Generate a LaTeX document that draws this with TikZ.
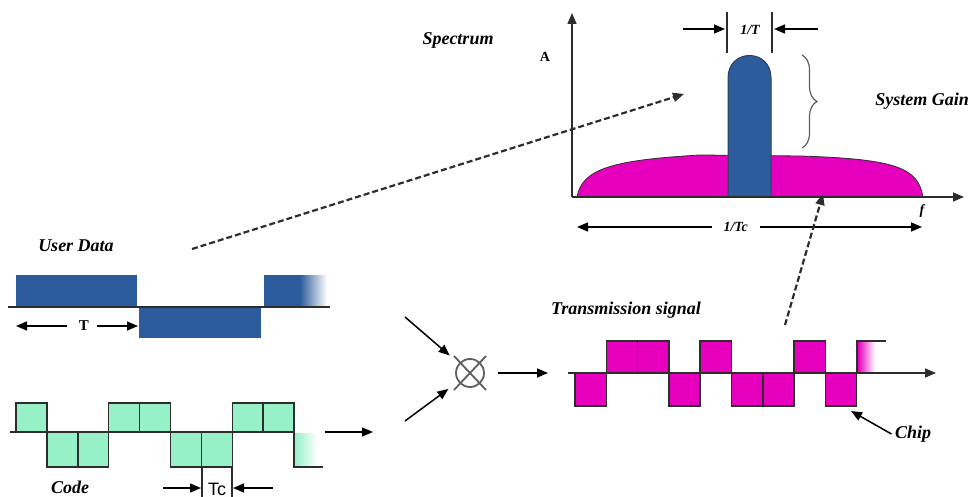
\documentclass[tikz,border=0pt]{standalone}
\usepackage{fontspec}
\setmainfont{Liberation Serif}
\newfontfamily\arialfont{Liberation Sans}
\usetikzlibrary{arrows.meta,decorations.pathreplacing}

\definecolor{userblue}{RGB}{44,92,155}
\definecolor{chipgreen}{RGB}{150,240,200}
\definecolor{chippink}{RGB}{230,0,190}
\definecolor{linegray}{RGB}{45,45,45}
\definecolor{mulgray}{RGB}{95,95,95}

\tikzset{
  lbl/.style={font=\fontsize{18}{20}\selectfont\bfseries\itshape},
  smalllbl/.style={font=\fontsize{14}{16}\selectfont\bfseries\itshape},
  wave/.style={draw=linegray, line width=1.5pt},
  axisline/.style={draw=linegray, line width=1.5pt},
  dotarrow/.style={->, draw=linegray, line width=2.2pt, dash pattern=on 6pt off 3pt},
}

\begin{document}
\begin{tikzpicture}[x=1pt,y=-1pt,>={Triangle[length=11pt,width=9pt]}]
  \useasboundingbox (0,0) rectangle (971,497);

  % user data
  \node[lbl] (userdata) at (76,246) {User Data};
  \fill[userblue] (16,275) rectangle (137,306);
  \fill[userblue] (139,307) rectangle (261,338);
  \fill[userblue] (264,275) rectangle (300,306);
  \shade[left color=userblue,right color=white] (300,275) rectangle (327,306);
  \draw[axisline] (8,307) -- (330,307);
  \node[font=\fontsize{15}{16}\selectfont\bfseries] (tlabel) at (84,326) {T};
  \coordinate (tleft) at (16,326);
  \coordinate (tright) at (138,326);
  \draw[->, line width=1.5pt, shorten <=8pt] (tlabel) -- (tleft);
  \draw[->, line width=1.5pt, shorten <=4pt] (tlabel) -- (tright);

  % code
  \node[lbl, anchor=base] (code) at (70,493) {Code};
  \draw[wave] (10,432) -- (16,432);
  \foreach \lev [count=\i from 0] in {403,467,467,403,403,467,467,403,403}
    \filldraw[wave, fill=chipgreen] (16+\i*30.9,432) rectangle (46.9+\i*30.9,\lev);
  \shade[left color=chipgreen,right color=white] (295,433) rectangle (317,466);
  \draw[wave] (294,432) -- (294,467) -- (323,467);
  \coordinate (codeout) at (325,432);
  \coordinate (codein) at (373,432);
  \draw[->, line width=1.5pt] (codeout) -- (codein);
  % chip width marks
  \draw[wave] (202,467) -- (202,497);
  \draw[wave] (232,467) -- (232,497);
  \node[font=\arialfont\fontsize{18}{20}\selectfont, anchor=base] (tc) at (217,495) {Tc};
  \coordinate (tcl) at (163,488);
  \coordinate (tcr) at (273,488);
  \draw[->, line width=1.5pt] (tcl) -- (201,488) coordinate (tcla);
  \draw[->, line width=1.5pt] (tcr) -- (233,488) coordinate (tcra);

  % multiplier
  \node[circle, draw=mulgray, line width=1.8pt, minimum size=28pt, inner sep=0pt] (mul) at (470,373) {};
  \draw[mulgray, line width=1.8pt] (mul) ++(-16,-17) -- ++(32,34);
  \draw[mulgray, line width=1.8pt] (mul) ++(16,-17) -- ++(-32,34);
  \coordinate (datain) at (405,317);
  \coordinate (codemul) at (405,421);
  \coordinate (mulout) at (548,373);
  \draw[->, line width=1.5pt, shorten >=12pt] (datain) -- (mul);
  \draw[->, line width=1.5pt, shorten >=12pt] (codemul) -- (mul);
  \draw[->, line width=1.5pt, shorten <=13pt] (mul) -- (mulout);

  % transmission signal
  \node[lbl] (txsignal) at (626,310) {Transmission signal};
  \foreach \lev [count=\i from 0] in {406,341,341,406,341,406,406,341,406}
    \filldraw[wave, fill=chippink] (575+\i*31.3,373) rectangle (606.3+\i*31.3,\lev);
  \shade[left color=chippink,right color=white] (858,342) rectangle (875,372);
  \draw[wave] (857,373) -- (857,341) -- (886,341);
  \coordinate (txstart) at (568,373);
  \coordinate (txend) at (936,373);
  \draw[->, axisline] (txstart) -- (txend);
  \node[lbl] (chip) at (913,434) {Chip};
  \coordinate (chiptip) at (851,411);
  \draw[->, line width=1.5pt] (chip.west) -- (chiptip);

  % spectrum
  \node[lbl] (spectrum) at (458,40) {Spectrum};
  \coordinate (origin) at (572,197);
  \coordinate (ytop) at (572,13);
  \coordinate (xend) at (964,197);
  \filldraw[fill=chippink, draw=linegray, line width=0.8pt]
    (577,197) .. controls (582,168) and (615,160) .. (700,155)
    -- (800,156) .. controls (897,159) and (918,168) .. (923,197) -- cycle;
  \filldraw[fill=userblue, draw=linegray!60!userblue, line width=1pt]
    (728,197) -- (728,78) .. controls (728,48) and (771,48) .. (771,78) -- (771,197) -- cycle;
  \draw[->, axisline] (origin) -- (ytop);
  \draw[->, axisline] (origin) -- (xend);
  \node[font=\fontsize{14}{15}\selectfont\bfseries] (alabel) at (545,57) {A};
  \node[smalllbl] (flabel) at (922,211) {f};
  % 1/T width
  \draw[wave] (727,12) -- (727,53);
  \draw[wave] (772,12) -- (772,53);
  \node[smalllbl] (onet) at (750,30) {1/T};
  \coordinate (onetl) at (683,29);
  \coordinate (onetr) at (818,29);
  \draw[->, line width=1.5pt] (onetl) -- (725,29) coordinate (onetla);
  \draw[->, line width=1.5pt] (onetr) -- (774,29) coordinate (onetra);
  % system gain
  \coordinate (bracetop) at (802,55);
  \coordinate (bracebot) at (802,148);
  \draw[decorate, decoration={brace, amplitude=15pt}, draw=mulgray, line width=1.2pt] (bracetop) -- (bracebot);
  \node[lbl] (gain) at (922,101) {System Gain};
  % 1/Tc width
  \coordinate (tcspanl) at (577,227);
  \coordinate (tcspanr) at (922,227);
  \draw[<->, line width=1.5pt] (tcspanl) -- (tcspanr)
    node[smalllbl, fill=white, pos=0.46, inner xsep=12pt] (onetc) {1/Tc};

  % links to spectrum
  \coordinate (udtail) at (192,249);
  \coordinate (udhead) at (684,94);
  \coordinate (txtail) at (785,325);
  \coordinate (txhead) at (823,194);
  \draw[dotarrow] (udtail) -- (udhead);
  \draw[dotarrow] (txtail) -- (txhead);
\end{tikzpicture}
\end{document}
